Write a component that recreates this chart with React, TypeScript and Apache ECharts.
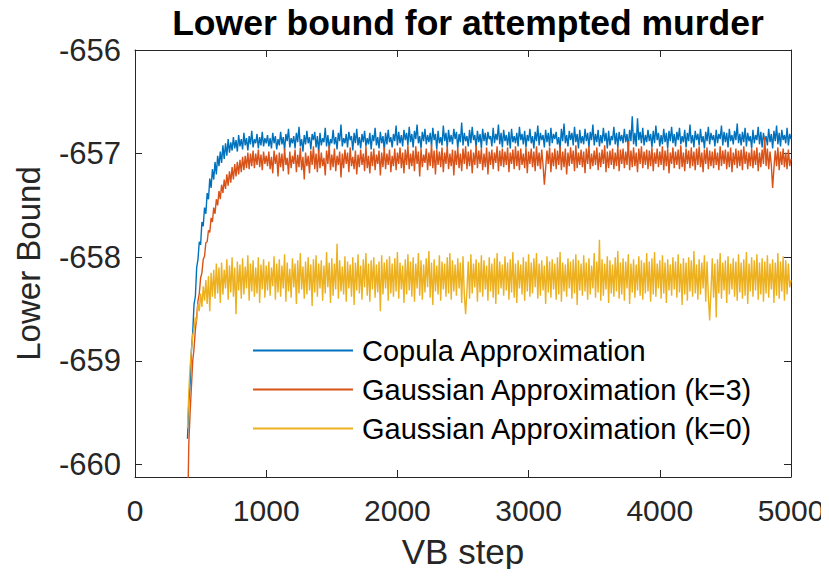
import React, { useEffect, useRef } from "react";
import * as echarts from "echarts";

const TITLE = "Lower bound for attempted murder";
const X_NAME = "VB step";
const Y_NAME = "Lower Bound";
const SERIES_NAMES = [
  "Copula Approximation",
  "Gaussian Approximation (k=3)",
  "Gaussian Approximation (k=0)",
];
const COLORS = ["#0072BD", "#D95319", "#EDB120"];
const Y_TICKS = [-660, -659, -658, -657, -656];
const X_TICKS = [0, 1000, 2000, 3000, 4000, 5000];

// VB steps sampled every 10 steps, from 400 to 5000 (461 samples)
const STEP_START = 400;
const STEP_SIZE = 10;

const copula = [
  // 400 - 1000
  -659.75, -659.4, -659.22, -658.9, -658.72, -658.45, -658.38, -658.1, -658.02, -657.85,
  -657.88, -657.66, -657.7, -657.52, -657.58, -657.38, -657.44, -657.24, -657.33, -657.15,
  -657.25, -657.08, -657.2, -657.02, -657.12, -656.98, -657.09, -656.92, -657.05, -656.9,
  -657.02, -656.86, -656.99, -656.89, -656.97, -656.84, -656.95, -656.87, -656.98, -656.82,
  -656.93, -656.86, -656.96, -656.8, -656.92, -656.85, -656.97, -656.83, -656.91, -656.78,
  -656.94, -656.86, -656.9, -656.81, -656.95, -656.84, -656.92, -656.79, -656.93, -656.85,
  -656.9,
  // 1010 - 5000
  -656.82, -656.93, -656.85, -656.95, -656.8, -656.9, -656.83, -656.96, -656.86, -656.92,
  -656.79, -656.91, -656.84, -656.97, -656.81, -656.88, -656.76, -656.94, -656.85, -656.9,
  -656.83, -656.95, -656.8, -656.89, -656.74, -656.93, -656.86, -656.98, -656.82, -656.91,
  -656.78, -656.9, -656.84, -656.96, -656.81, -656.87, -656.79, -656.94, -656.83, -656.99,
  -656.8, -656.92, -656.85, -656.89, -656.75, -656.93, -656.82, -656.95, -656.86, -656.9,
  -656.77, -656.91, -656.84, -656.96, -656.8, -656.88, -656.72, -656.93, -656.85, -656.9,
  -656.81, -656.94, -656.79, -656.87, -656.83, -656.97, -656.8, -656.9, -656.76, -656.92,
  -656.84, -656.95, -656.81, -656.89, -656.78, -656.93, -656.85, -656.91, -656.8, -656.96,
  -656.82, -656.88, -656.75, -656.92, -656.84, -656.95, -656.79, -656.9, -656.83, -656.97,
  -656.8, -656.91, -656.77, -656.89, -656.84, -656.94, -656.81, -656.88, -656.73, -656.92,
  -656.79, -656.9, -656.82, -656.93, -656.77, -656.87, -656.8, -656.92, -656.74, -656.89,
  -656.81, -656.94, -656.78, -656.86, -656.72, -656.9, -656.83, -656.95, -656.79, -656.88,
  -656.76, -656.91, -656.82, -656.89, -656.8, -656.93, -656.75, -656.87, -656.81, -656.96,
  -656.78, -656.9, -656.84, -656.92, -656.73, -656.88, -656.8, -656.94, -656.77, -656.89,
  -656.82, -656.91, -656.76, -656.86, -656.79, -656.95, -656.81, -656.89, -656.7, -656.92,
  -656.8, -656.88, -656.83, -656.93, -656.77, -656.9, -656.74, -656.87, -656.82, -656.94,
  -656.78, -656.89, -656.81, -656.95, -656.76, -656.88, -656.8, -656.92, -656.79, -656.86,
  -656.83, -656.93, -656.75, -656.9, -656.81, -656.87, -656.72, -656.91, -656.8, -656.94,
  -656.77, -656.88, -656.82, -656.92, -656.79, -656.95, -656.76, -656.89, -656.83, -656.9,
  -656.8, -656.93, -656.74, -656.87, -656.81, -656.91, -656.78, -656.94, -656.82, -656.88,
  -656.76, -656.9, -656.83, -656.95, -656.79, -656.88, -656.73, -656.92, -656.8, -656.87,
  -656.82, -656.94, -656.77, -656.89, -656.8, -656.93, -656.75, -656.9, -656.81, -656.86,
  -656.79, -656.91, -656.84, -656.96, -656.76, -656.88, -656.71, -656.9, -656.82, -656.93,
  -656.78, -656.87, -656.8, -656.92, -656.74, -656.89, -656.81, -656.95, -656.77, -656.9,
  -656.83, -656.91, -656.76, -656.88, -656.8, -656.94, -656.79, -656.87, -656.72, -656.92,
  -656.81, -656.89, -656.77, -656.93, -656.82, -656.9, -656.75, -656.88, -656.8, -656.95,
  -656.78, -656.92, -656.83, -656.87, -656.74, -656.91, -656.8, -656.94, -656.79, -656.88,
  -656.82, -656.9, -656.76, -656.89, -656.81, -656.95, -656.77, -656.88, -656.64, -656.91,
  -656.8, -656.93, -656.66, -656.87, -656.79, -656.9, -656.75, -656.92, -656.82, -656.89,
  -656.77, -656.88, -656.81, -656.94, -656.78, -656.9, -656.73, -656.87, -656.8, -656.93,
  -656.82, -656.91, -656.76, -656.89, -656.8, -656.95, -656.78, -656.88, -656.74, -656.9,
  -656.81, -656.93, -656.79, -656.87, -656.75, -656.91, -656.83, -656.89, -656.77, -656.94,
  -656.8, -656.88, -656.72, -656.9, -656.82, -656.94, -656.78, -656.87, -656.81, -656.92,
  -656.76, -656.89, -656.83, -656.95, -656.79, -656.88, -656.74, -656.91, -656.8, -656.87,
  -656.82, -656.93, -656.77, -656.9, -656.81, -656.86, -656.73, -656.92, -656.79, -656.89,
  -656.8, -656.94, -656.76, -656.88, -656.82, -656.91, -656.78, -656.87, -656.71, -656.9,
  -656.81, -656.92, -656.79, -656.89, -656.75, -656.93, -656.8, -656.88, -656.83, -656.95,
  -656.77, -656.9, -656.82, -656.87, -656.74, -656.91, -656.79, -656.94, -656.8, -656.88,
  -656.83, -656.92, -656.76, -656.89, -656.81, -656.95, -656.78, -656.88, -656.73, -656.91,
  -656.8, -656.93, -656.77, -656.87, -656.82, -656.9, -656.75, -656.92, -656.81, -656.86,
];

const gaussK3 = [
  // 400 - 1000
  -660.6, -659.8, -659.5, -659.25, -659.0, -658.88, -658.7, -658.58, -658.42, -658.35,
  -658.2, -658.15, -658.02, -657.99, -657.86, -657.85, -657.74, -657.76, -657.62, -657.66,
  -657.52, -657.58, -657.44, -657.5, -657.36, -657.44, -657.3, -657.38, -657.25, -657.34,
  -657.2, -657.31, -657.17, -657.28, -657.13, -657.25, -657.1, -657.22, -657.08, -657.2,
  -657.06, -657.18, -657.03, -657.16, -657.02, -657.14, -656.99, -657.15, -657.0, -657.12,
  -656.97, -657.14, -657.0, -657.11, -656.96, -657.13, -657.01, -657.16, -656.98, -657.1,
  -657.02,
  // 1010 - 5000
  -657.12, -656.98, -657.15, -657.03, -657.19, -656.97, -657.1, -657.01, -657.22, -656.99,
  -657.13, -657.0, -657.17, -656.95, -657.11, -657.04, -657.2, -656.98, -657.14, -657.02,
  -657.1, -656.96, -657.18, -657.01, -657.13, -656.94, -657.16, -657.03, -657.25, -656.99,
  -657.12, -657.02, -657.19, -656.97, -657.11, -656.93, -657.15, -657.0, -657.18, -656.96,
  -657.14, -656.99, -657.12, -657.04, -657.21, -656.97, -657.1, -656.92, -657.16, -657.01,
  -657.13, -656.95, -657.17, -657.02, -657.11, -656.98, -657.23, -657.0, -657.14, -656.96,
  -657.1, -656.99, -657.18, -656.94, -657.12, -657.03, -657.15, -656.97, -657.2, -657.01,
  -657.13, -656.96, -657.11, -657.0, -657.17, -656.93, -657.14, -657.02, -657.19, -656.98,
  -657.12, -656.95, -657.16, -657.01, -657.1, -656.97, -657.21, -656.99, -657.13, -656.94,
  -657.15, -657.0, -657.11, -656.96, -657.18, -657.02, -657.12, -656.95, -657.16, -656.99,
  -657.1, -656.94, -657.14, -656.99, -657.19, -656.96, -657.11, -656.92, -657.15, -657.0,
  -657.12, -656.97, -657.17, -656.93, -657.1, -656.98, -657.22, -656.95, -657.13, -657.01,
  -657.09, -656.95, -657.16, -656.99, -657.12, -656.91, -657.14, -656.97, -657.2, -656.96,
  -657.11, -656.98, -657.13, -656.94, -657.18, -656.99, -657.1, -656.93, -657.15, -657.0,
  -657.12, -656.96, -657.21, -656.97, -657.11, -656.94, -657.14, -657.0, -657.17, -656.95,
  -657.1, -656.93, -657.15, -656.98, -657.12, -656.96, -657.19, -656.99, -657.11, -656.92,
  -657.14, -656.97, -657.1, -656.95, -657.16, -657.0, -657.13, -656.94, -657.2, -656.98,
  -657.11, -656.96, -657.15, -656.99, -657.09, -656.93, -657.17, -656.97, -657.12, -656.95,
  -657.13, -656.98, -657.11, -656.94, -657.18, -656.99, -657.1, -656.96, -657.15, -656.93,
  -657.12, -656.97, -657.16, -656.95, -657.11, -657.0, -657.14, -656.94, -657.19, -656.98,
  -657.1, -656.95, -657.13, -656.98, -657.17, -656.93, -657.12, -656.99, -657.15, -656.96,
  -657.11, -657.3, -657.14, -656.97, -657.1, -656.94, -657.18, -656.99, -657.12, -656.95,
  -657.15, -656.97, -657.11, -656.93, -657.16, -656.98, -657.13, -656.95, -657.2, -656.99,
  -657.12, -656.94, -657.1, -656.97, -657.17, -656.92, -657.14, -656.99, -657.11, -656.96,
  -657.13, -656.98, -657.19, -656.95, -657.1, -656.93, -657.15, -657.0, -657.12, -656.97,
  -657.11, -656.94, -657.16, -656.99, -657.13, -656.96, -657.1, -656.92, -657.18, -656.98,
  -657.14, -656.97, -657.11, -656.95, -657.15, -656.99, -657.12, -656.93, -657.17, -656.96,
  -657.1, -656.95, -657.14, -656.98, -657.11, -656.88, -657.16, -656.97, -657.13, -656.94,
  -657.12, -656.99, -657.18, -656.95, -657.1, -656.93, -657.14, -656.98, -657.11, -656.96,
  -657.15, -656.97, -657.12, -656.94, -657.17, -656.99, -657.1, -656.95, -657.13, -656.98,
  -657.11, -656.93, -657.16, -656.97, -657.12, -656.95, -657.19, -656.99, -657.1, -656.94,
  -657.14, -656.98, -657.11, -656.96, -657.15, -656.92, -657.13, -656.99, -657.17, -656.95,
  -657.1, -656.97, -657.14, -656.94, -657.12, -656.98, -657.16, -656.95, -657.11, -656.93,
  -657.13, -656.99, -657.18, -656.96, -657.1, -656.94, -657.15, -656.97, -657.12, -656.98,
  -657.14, -656.95, -657.11, -656.99, -657.16, -656.93, -657.12, -656.97, -657.1, -656.96,
  -657.15, -656.98, -657.13, -656.94, -657.18, -656.99, -657.11, -656.95, -657.14, -656.97,
  -657.12, -656.96, -657.16, -656.93, -657.1, -656.98, -657.15, -656.99, -657.12, -656.95,
  -657.14, -656.97, -657.11, -656.94, -657.17, -656.99, -657.13, -656.96, -657.1, -656.84,
  -657.12, -656.95, -657.15, -656.98, -657.11, -657.33, -657.14, -656.97, -657.12, -656.94,
  -657.16, -656.98, -657.11, -656.95, -657.13, -656.99, -657.15, -656.96, -657.12, -657.05,
];

const gaussK0 = [
  // 400 - 1000
  -659.65, -659.3, -659.05, -658.9, -658.75, -658.7, -658.58, -658.62, -658.45, -658.52,
  -658.35, -658.48, -658.28, -658.42, -658.22, -658.45, -658.18, -658.52, -658.15, -658.38,
  -658.12, -658.4, -658.06, -658.35, -658.1, -658.44, -658.05, -658.36, -658.12, -658.3,
  -658.02, -658.41, -658.08, -658.34, -658.0, -658.38, -658.1, -658.55, -658.04, -658.32,
  -658.07, -658.4, -658.01, -658.36, -658.09, -658.3, -657.98, -658.42, -658.06, -658.33,
  -658.03, -658.38, -658.1, -658.35, -658.0, -658.44, -658.07, -658.31, -658.02, -658.39,
  -658.08,
  // 1010 - 5000
  -658.32, -658.04, -658.37, -658.1, -658.28, -657.99, -658.41, -658.06, -658.34, -658.02,
  -658.38, -658.08, -658.3, -657.97, -658.43, -658.05, -658.33, -658.11, -658.39, -658.01,
  -658.29, -658.06, -658.45, -658.03, -658.35, -657.96, -658.31, -658.09, -658.4, -658.04,
  -658.36, -658.0, -658.32, -658.07, -658.47, -658.02, -658.34, -657.98, -658.38, -658.06,
  -658.3, -658.03, -658.42, -658.08, -658.35, -657.95, -658.29, -658.05, -658.44, -658.01,
  -658.37, -658.06, -658.31, -657.87, -658.4, -658.03, -658.33, -658.09, -658.36, -657.99,
  -658.43, -658.04, -658.3, -658.07, -658.38, -658.0, -658.46, -658.05, -658.32, -657.97,
  -658.35, -658.08, -658.41, -658.02, -658.29, -657.96, -658.37, -658.06, -658.43, -658.03,
  -658.31, -658.0, -658.39, -658.07, -658.34, -658.04, -658.52, -657.98, -658.36, -658.05,
  -658.3, -658.02, -658.42, -657.99, -658.35, -658.06, -658.38, -658.01, -658.33, -657.95,
  -658.4, -658.05, -658.31, -658.08, -658.44, -658.02, -658.36, -657.97, -658.32, -658.04,
  -658.38, -658.0, -658.43, -658.06, -658.3, -657.96, -658.37, -658.03, -658.41, -658.07,
  -658.34, -658.01, -658.29, -657.94, -658.39, -658.05, -658.46, -658.02, -658.33, -658.08,
  -658.36, -657.98, -658.42, -658.04, -658.31, -658.06, -658.38, -658.0, -658.35, -657.96,
  -658.41, -658.03, -658.33, -658.07, -658.37, -658.01, -658.3, -658.05, -658.44, -657.99,
  -658.36, -658.55, -658.32, -658.04, -658.4, -657.97, -658.35, -658.06, -658.29, -658.02,
  -658.43, -658.05, -658.34, -657.98, -658.38, -658.03, -658.31, -658.08, -658.42, -658.0,
  -658.33, -658.06, -658.39, -658.01, -658.45, -657.96, -658.36, -658.04, -658.3, -658.07,
  -658.37, -657.99, -658.32, -658.05, -658.41, -658.02, -658.34, -657.95, -658.39, -658.06,
  -658.44, -658.03, -658.3, -658.07, -658.36, -658.0, -658.42, -658.04, -658.33, -657.97,
  -658.38, -658.05, -658.35, -658.01, -658.29, -657.96, -658.4, -658.06, -658.37, -658.03,
  -658.32, -658.08, -658.45, -657.99, -658.34, -658.04, -658.39, -658.02, -658.31, -658.06,
  -658.41, -658.0, -658.36, -657.95, -658.43, -658.05, -658.33, -658.07, -658.38, -658.01,
  -658.3, -658.04, -658.4, -658.02, -658.35, -657.97, -658.46, -658.03, -658.32, -658.06,
  -658.37, -657.98, -658.33, -658.05, -658.41, -658.01, -658.36, -658.08, -658.3, -657.96,
  -658.39, -658.04, -658.34, -657.83, -658.42, -658.02, -658.37, -658.06, -658.31, -657.99,
  -658.44, -658.03, -658.35, -658.07, -658.38, -658.0, -658.33, -657.94, -658.4, -658.05,
  -658.36, -658.01, -658.42, -658.04, -658.3, -657.97, -658.45, -658.06, -658.34, -658.02,
  -658.39, -658.07, -658.32, -657.99, -658.37, -658.03, -658.41, -658.05, -658.35, -657.96,
  -658.33, -658.04, -658.43, -658.01, -658.36, -657.95, -658.38, -658.06, -658.3, -658.03,
  -658.4, -657.98, -658.35, -658.05, -658.44, -658.02, -658.32, -658.07, -658.37, -658.0,
  -658.31, -658.04, -658.39, -657.97, -658.34, -658.06, -658.46, -658.01, -658.36, -658.05,
  -658.42, -658.0, -658.33, -658.03, -658.38, -657.94, -658.35, -658.07, -658.41, -658.02,
  -658.36, -658.05, -658.3, -657.98, -658.43, -658.04, -658.37, -658.61, -658.33, -658.01,
  -658.39, -658.06, -658.58, -658.02, -658.35, -657.96, -658.4, -658.05, -658.32, -658.03,
  -658.44, -657.99, -658.36, -658.06, -658.31, -658.01, -658.38, -658.04, -658.42, -657.97,
  -658.34, -658.05, -658.4, -658.02, -658.37, -657.95, -658.45, -658.06, -658.33, -658.0,
  -658.38, -658.03, -658.32, -657.97, -658.41, -658.05, -658.36, -658.01, -658.43, -658.04,
  -658.35, -657.98, -658.39, -658.06, -658.31, -658.02, -658.44, -658.05, -658.37, -657.96,
  -658.4, -658.04, -658.33, -657.99, -658.42, -658.03, -658.36, -658.06, -658.29, -658.22,
];

const FONT = "'Liberation Sans', Arial, Helvetica, sans-serif";
const AXIS_COLOR = "#262626";

function toPairs(values: number[]) {
  return values.map((v, i) => [STEP_START + i * STEP_SIZE, v]);
}

export default function App() {
  const ref = useRef<HTMLDivElement>(null);

  useEffect(() => {
    if (!ref.current) return;
    const chart = echarts.init(ref.current, undefined, { renderer: "svg" });
    const seriesValues = [copula, gaussK3, gaussK0];

    const axisCommon = {
      type: "value" as const,
      axisLine: { show: true, onZero: false, lineStyle: { color: AXIS_COLOR, width: 1 } },
      axisTick: { show: true, inside: true, length: 7, lineStyle: { color: AXIS_COLOR, width: 1 } },
      splitLine: { show: false },
    };

    chart.setOption({
      animation: false,
      backgroundColor: "#ffffff",
      title: {
        text: TITLE,
        left: 463,
        top: 0,
        textAlign: "center",
        textStyle: { fontFamily: FONT, fontSize: 35.5, fontWeight: "bold", color: "#000000" },
      },
      grid: { left: 135, right: 38, top: 50, bottom: 100, containLabel: false },
      legend: {
        show: true,
        orient: "vertical",
        left: 248,
        top: 331,
        itemWidth: 100,
        itemHeight: 14,
        itemGap: 10,
        icon: "path://M0,6 L100,6 L100,8 L0,8 Z",
        data: SERIES_NAMES,
        textStyle: { fontFamily: FONT, fontSize: 29, color: "#000000", padding: [0, 0, 0, 4] },
        backgroundColor: "transparent",
      },
      xAxis: [
        {
          ...axisCommon,
          position: "bottom",
          min: 0,
          max: 5000,
          interval: 1000,
          name: X_NAME,
          nameLocation: "middle",
          nameGap: 57,
          nameTextStyle: { fontFamily: FONT, fontSize: 35, color: AXIS_COLOR },
          axisLabel: {
            show: true,
            fontFamily: FONT,
            fontSize: 30,
            color: AXIS_COLOR,
            margin: 18,
            customValues: X_TICKS,
            formatter: (v: number) => String(v),
          },
        },
        {
          ...axisCommon,
          position: "top",
          min: 0,
          max: 5000,
          interval: 1000,
          axisLabel: { show: false },
        },
      ],
      yAxis: [
        {
          ...axisCommon,
          position: "left",
          min: -660.12,
          max: -656,
          name: Y_NAME,
          nameLocation: "middle",
          nameGap: 90,
          nameRotate: 90,
          nameTextStyle: { fontFamily: FONT, fontSize: 33, color: AXIS_COLOR },
          axisTick: { ...axisCommon.axisTick, customValues: Y_TICKS },
          axisLabel: {
            show: true,
            fontFamily: FONT,
            fontSize: 31,
            color: AXIS_COLOR,
            margin: 14,
            customValues: Y_TICKS,
            formatter: (v: number) => String(v),
          },
        },
        {
          ...axisCommon,
          position: "right",
          min: -660.12,
          max: -656,
          axisTick: { ...axisCommon.axisTick, customValues: Y_TICKS },
          axisLabel: { show: false },
        },
      ],
      series: seriesValues.map((vals, k) => ({
        name: SERIES_NAMES[k],
        type: "line",
        xAxisIndex: 0,
        yAxisIndex: 0,
        data: toPairs(vals),
        showSymbol: false,
        symbol: "none",
        clip: true,
        z: 2 + k,
        color: COLORS[k],
        lineStyle: { color: COLORS[k], width: 1.4 },
      })),
    });

    return () => chart.dispose();
  }, []);

  return <div ref={ref} style={{ width: 829, height: 577, margin: -8 }} />;
}
